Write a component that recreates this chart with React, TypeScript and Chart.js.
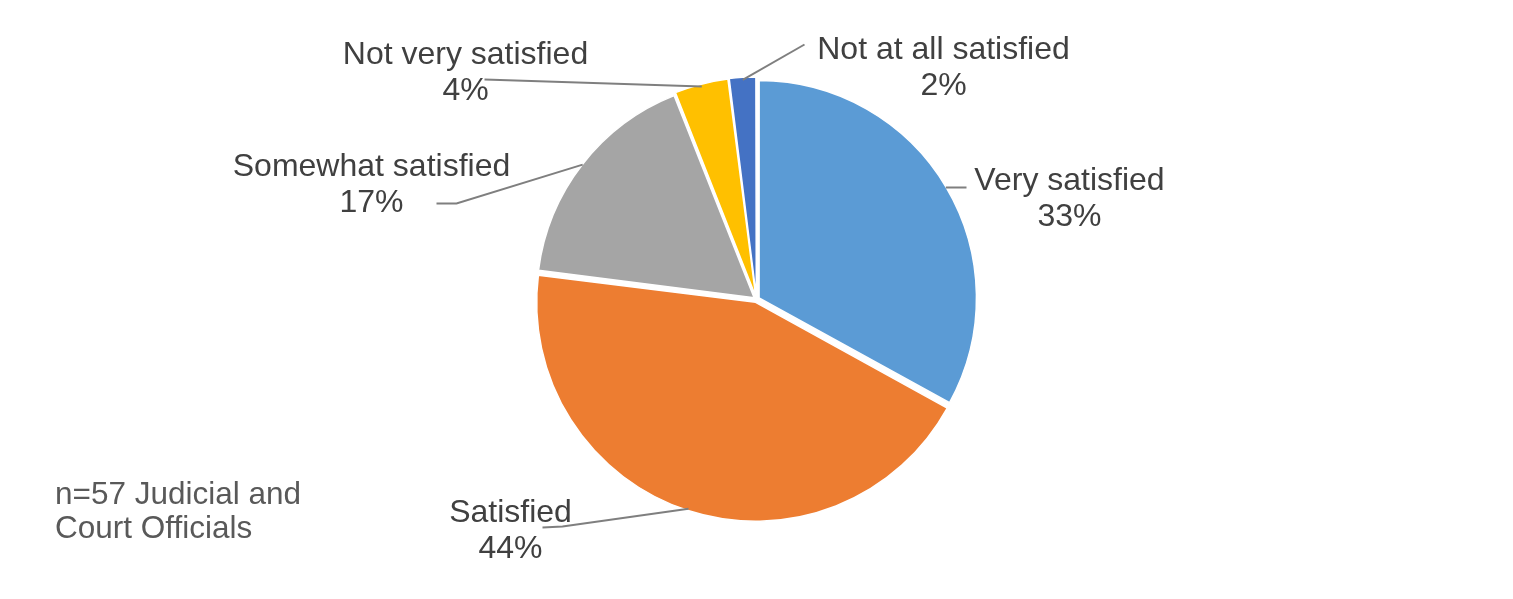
import React, { useEffect, useRef } from 'react'
import { Chart, registerables } from 'chart.js'

Chart.register(...registerables)

// survey answers, clockwise from 12 o'clock
const categories = ['Very satisfied', 'Satisfied', 'Somewhat satisfied', 'Not very satisfied', 'Not at all satisfied']
const shares = [33, 44, 17, 4, 2]
const sliceColors = ['#5B9BD5', '#ED7D31', '#A5A5A5', '#FFC000', '#4472C4']
const noteLines = ['n=57 Judicial and', 'Court Officials']

// where each label sits, relative to the pie centre:
// tx/ty = text centre x and first baseline, bends = leader line points after the slice edge
const labelSpots = [
  { tx: 313, ty: -110, bends: [[210, -112]] },
  { tx: -246, ty: 222, bends: [[-194, 227], [-214, 228]] },
  { tx: -385, ty: -124, bends: [[-300, -96], [-320, -96]] },
  { tx: -291, ty: -236, bends: [[-272, -220]] },
  { tx: 187, ty: -241, bends: [[48, -255]] },
]

const FONT = '"Liberation Sans", Arial, sans-serif'

const pieLabels = {
  id: 'pieLabels',
  afterDatasetsDraw(chart: any) {
    const ctx = chart.ctx as CanvasRenderingContext2D
    const meta = chart.getDatasetMeta(0)
    ctx.save()
    meta.data.forEach((arc: any, i: number) => {
      const { x, y, startAngle, endAngle, outerRadius } = arc.getProps(
        ['x', 'y', 'startAngle', 'endAngle', 'outerRadius'],
        true
      )
      // chart.js moves an arc by a quarter of its offset option
      const off = (arc.options.offset || 0) / 4
      const mid = (startAngle + endAngle) / 2
      const r = outerRadius + off
      const spot = labelSpots[i]

      // leader line from the slice edge
      ctx.strokeStyle = '#7F7F7F'
      ctx.lineWidth = 2
      ctx.beginPath()
      ctx.moveTo(x + Math.cos(mid) * r, y + Math.sin(mid) * r)
      spot.bends.forEach(([bx, by]) => ctx.lineTo(x + bx, y + by))
      ctx.stroke()

      ctx.fillStyle = '#404040'
      ctx.font = `32px ${FONT}`
      ctx.textAlign = 'center'
      ctx.textBaseline = 'alphabetic'
      ctx.fillText(categories[i], x + spot.tx, y + spot.ty)
      ctx.fillText(`${shares[i]}%`, x + spot.tx, y + spot.ty + 36)
    })

    // sample note, bottom left
    ctx.fillStyle = '#595959'
    ctx.font = `31.5px ${FONT}`
    ctx.textAlign = 'left'
    noteLines.forEach((line, k) => ctx.fillText(line, 55, 504 + k * 34))
    ctx.restore()
  },
}

const App: React.FC = () => {
  const canvasRef = useRef<HTMLCanvasElement>(null)

  useEffect(() => {
    document.body.style.margin = '0'
    if (!canvasRef.current) return

    const chart = new Chart(canvasRef.current, {
      type: 'pie',
      data: {
        labels: categories,
        datasets: [
          {
            data: shares,
            backgroundColor: sliceColors,
            borderColor: '#FFFFFF',
            borderWidth: 1.5,
            offset: 12,
            hoverOffset: 12,
          },
        ],
      },
      options: {
        responsive: true,
        maintainAspectRatio: false,
        animation: false,
        radius: 217,
        events: [],
        plugins: {
          legend: { display: false },
          tooltip: { enabled: false },
          title: { display: false },
        },
      } as any,
      plugins: [pieLabels],
    })

    return () => {
      chart.destroy()
    }
  }, [])

  return (
    <div style={{ position: 'relative', width: 1513, height: 599, background: '#FFFFFF' }}>
      <canvas ref={canvasRef}></canvas>
    </div>
  )
}

export default App
